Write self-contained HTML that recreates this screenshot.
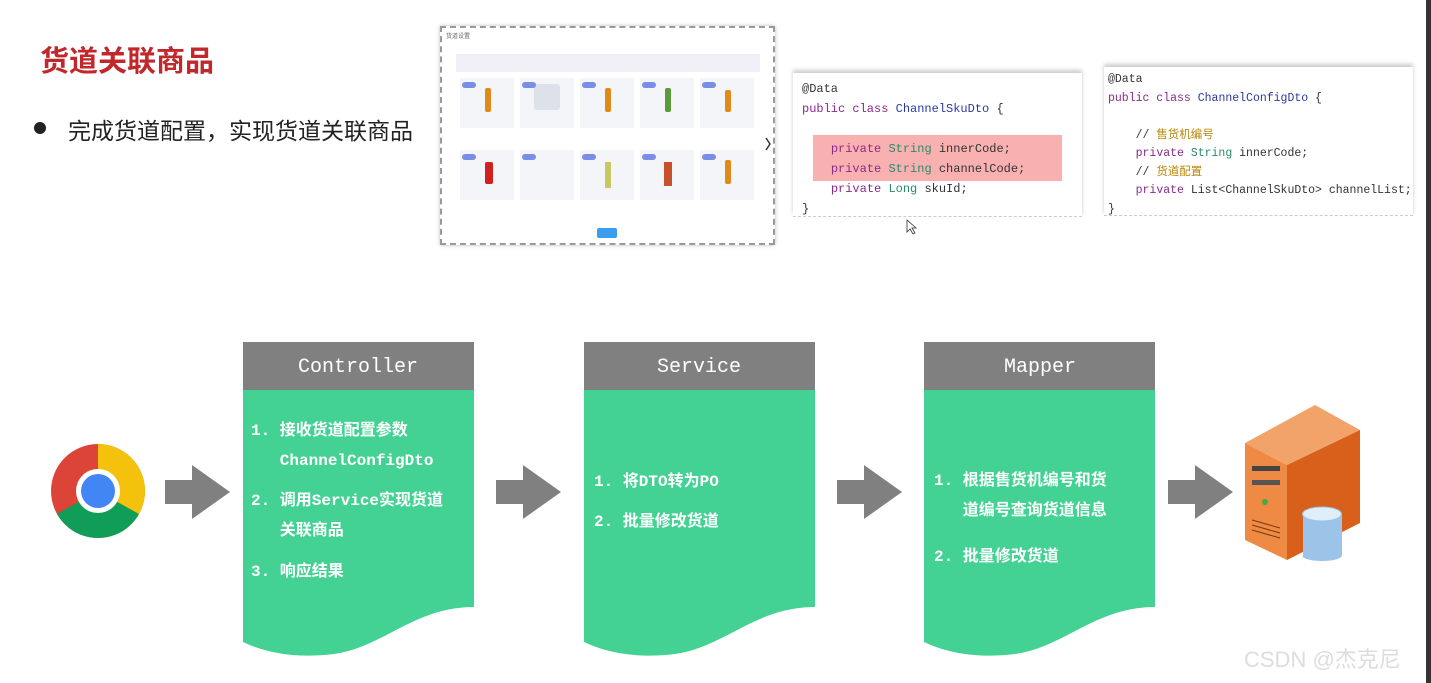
<!DOCTYPE html>
<html><head><meta charset="utf-8"><style>
body{margin:0;width:1431px;height:683px;background:#fff;position:relative;overflow:hidden;font-family:"Liberation Sans","Noto Sans CJK SC",sans-serif}
.a{position:absolute}
.code{font-family:"Liberation Mono","Noto Sans CJK SC",monospace;font-size:12px;line-height:20px;color:#333;white-space:pre}
.kw{color:#8a2a8a}.ty{color:#2a8a6a}.cl{color:#2a3aa0}.cm{color:#b8860b}
.box{color:#fff;font-family:"Liberation Mono","Noto Sans CJK SC",monospace;font-size:16px;line-height:30px;font-weight:bold}
</style></head><body>
<div class="a" style="left:40px;top:38px;font-size:29px;font-weight:bold;color:#c0282c;font-family:'Noto Sans CJK SC',sans-serif">货道关联商品</div>
<div class="a" style="left:34px;top:122px;width:12px;height:12px;border-radius:50%;background:#222"></div>
<div class="a" style="left:68px;top:112px;font-size:23px;color:#222;font-family:'Noto Sans CJK SC',sans-serif">完成货道配置，实现货道关联商品</div>

<div class="a" style="left:440px;top:26px;width:331px;height:215px;border:2px dashed #999;background:#fff;box-shadow:0 0 4px #bbb">
 <div class="a" style="left:4px;top:3px;font-size:6px;color:#666">货道设置</div>
 <div class="a" style="left:14px;top:26px;width:304px;height:18px;background:#eef0f5"></div>
 <svg class="a" style="left:0;top:0" width="331" height="215">
  <g fill="#f4f5f8">
   <rect x="18" y="50" width="54" height="50"/><rect x="78" y="50" width="54" height="50"/><rect x="138" y="50" width="54" height="50"/><rect x="198" y="50" width="54" height="50"/><rect x="258" y="50" width="54" height="50"/>
   <rect x="18" y="122" width="54" height="50"/><rect x="78" y="122" width="54" height="50"/><rect x="138" y="122" width="54" height="50"/><rect x="198" y="122" width="54" height="50"/><rect x="258" y="122" width="54" height="50"/>
  </g>
  <g fill="#e08a1a"><rect x="43" y="60" width="6" height="24" rx="2"/><rect x="163" y="60" width="6" height="24" rx="2"/><rect x="283" y="62" width="6" height="22" rx="2"/><rect x="283" y="132" width="6" height="24" rx="2"/><rect x="222" y="134" width="8" height="24" fill="#c8502a"/><rect x="163" y="134" width="6" height="26" fill="#c8c860"/></g>
  <rect x="223" y="60" width="6" height="24" fill="#5a9a3a" rx="2"/>
  <rect x="43" y="134" width="8" height="22" fill="#d02020" rx="2"/>
  <rect x="92" y="56" width="26" height="26" fill="#dde1ea" rx="3"/>
  <g fill="#7a8ee8"><rect x="20" y="54" width="14" height="6" rx="3"/><rect x="80" y="54" width="14" height="6" rx="3"/><rect x="140" y="54" width="14" height="6" rx="3"/><rect x="200" y="54" width="14" height="6" rx="3"/><rect x="260" y="54" width="14" height="6" rx="3"/><rect x="20" y="126" width="14" height="6" rx="3"/><rect x="80" y="126" width="14" height="6" rx="3"/><rect x="140" y="126" width="14" height="6" rx="3"/><rect x="200" y="126" width="14" height="6" rx="3"/><rect x="260" y="126" width="14" height="6" rx="3"/></g>
  <rect x="155" y="200" width="20" height="10" fill="#3a9ef0" rx="2"/>
  <path d="M324 110 l4 6 l-4 6" stroke="#333" stroke-width="1.5" fill="none"/>
 </svg>
</div>

<div class="a" style="left:793px;top:73px;width:289px;height:143px;border-bottom:1px dashed #ccc;box-shadow:0 -3px 4px #ccc;background:#fff"></div>
<div class="a code" style="left:802px;top:79px">@Data
<span class="kw">public class</span> <span class="cl">ChannelSkuDto</span> {
</div>
<div class="a" style="left:813px;top:135px;width:249px;height:46px;background:#f9b0b0"></div>
<div class="a code" style="left:802px;top:139px">    <span class="kw">private</span> <span class="ty">String</span> innerCode;
    <span class="kw">private</span> <span class="ty">String</span> channelCode;
    <span class="kw">private</span> <span class="ty">Long</span> skuId;
}</div>

<div class="a" style="left:1104px;top:67px;width:309px;height:148px;border-bottom:1px dashed #ccc;box-shadow:0 -3px 4px #ccc;background:#fff"></div>
<div class="a code" style="left:1108px;top:71px;font-size:11.5px;line-height:18.5px">@Data
<span class="kw">public class</span> <span class="cl">ChannelConfigDto</span> {

    // <span class="cm">售货机编号</span>
    <span class="kw">private</span> <span class="ty">String</span> innerCode;
    // <span class="cm">货道配置</span>
    <span class="kw">private</span> List&lt;ChannelSkuDto&gt; channelList;
}</div>

<svg class="a" style="left:0;top:0" width="1431" height="683">
 <g fill="#808080">
  <rect x="243" y="342" width="231" height="48"/><rect x="584" y="342" width="231" height="48"/><rect x="924" y="342" width="231" height="48"/>
  <path d="M165 480h27v-15l38 27-38 27v-15h-27z"/>
  <path d="M496 480h27v-15l38 27-38 27v-15h-27z"/>
  <path d="M837 480h27v-15l38 27-38 27v-15h-27z"/>
  <path d="M1168 480h27v-15l38 27-38 27v-15h-27z"/>
 </g>
 <g fill="#44d194">
  <path d="M243 390h231v217c-60 0-90 40-140 47-40 5-70-2-91-12z"/>
  <path d="M584 390h231v217c-60 0-90 40-140 47-40 5-70-2-91-12z"/>
  <path d="M924 390h231v217c-60 0-90 40-140 47-40 5-70-2-91-12z"/>
 </g>
 <g fill="#fff" font-family="Liberation Mono,monospace" font-size="20" text-anchor="middle">
  <text x="358" y="372">Controller</text><text x="699" y="372">Service</text><text x="1040" y="372">Mapper</text>
 </g>
 <circle cx="98" cy="491" r="47" fill="#db4437"/>
 <path d="M98 491 L139 514 A47 47 0 0 1 57 514 Z" fill="#0f9d58"/>
 <path d="M98 491 L98 444 A47 47 0 0 1 139 514 Z" fill="#f4c20d"/>
 <circle cx="98" cy="491" r="22" fill="#fff"/>
 <circle cx="98" cy="491" r="17" fill="#4285f4"/>
 <polygon points="1245,443 1315,405 1360,430 1287,465" fill="#f2a36a"/>
 <polygon points="1287,465 1360,430 1360,523 1287,560" fill="#d8601a"/>
 <polygon points="1245,443 1287,465 1287,560 1245,540" fill="#ee8a44"/>
 <rect x="1252" y="466" width="28" height="5" fill="#444"/><rect x="1252" y="480" width="28" height="5" fill="#555"/>
 <circle cx="1265" cy="502" r="3" fill="#4a4"/>
 <g stroke="#7a3a10" stroke-width="1"><line x1="1252" y1="520" x2="1280" y2="528"/><line x1="1252" y1="525" x2="1280" y2="533"/><line x1="1252" y1="530" x2="1280" y2="538"/></g>
 <rect x="1303" y="514" width="39" height="42" fill="#9cc4e8"/>
 <ellipse cx="1322" cy="556" rx="19.5" ry="5" fill="#9cc4e8"/>
 <ellipse cx="1322" cy="514" rx="19.5" ry="7" fill="#dfeefa" stroke="#9cc4e8"/>
 <path d="M907 220 v12 l3-3 3 5 2-1-3-5 4 0z" fill="#fff" stroke="#333" stroke-width="0.8"/>
</svg>

<div class="a box" style="left:251px;top:416px">1. 接收货道配置参数<br>&nbsp;&nbsp;&nbsp;ChannelConfigDto</div>
<div class="a box" style="left:251px;top:486px">2. 调用Service实现货道<br>&nbsp;&nbsp;&nbsp;关联商品</div>
<div class="a box" style="left:251px;top:557px">3. 响应结果</div>
<div class="a box" style="left:594px;top:467px">1. 将DTO转为PO</div>
<div class="a box" style="left:594px;top:507px">2. 批量修改货道</div>
<div class="a box" style="left:934px;top:466px">1. 根据售货机编号和货<br>&nbsp;&nbsp;&nbsp;道编号查询货道信息</div>
<div class="a box" style="left:934px;top:542px">2. 批量修改货道</div>
<div class="a" style="left:1244px;top:642px;font-size:22px;color:#ddd">CSDN @杰克尼</div>
<div class="a" style="left:1426px;top:0;width:5px;height:683px;background:#333"></div>
</body></html>
